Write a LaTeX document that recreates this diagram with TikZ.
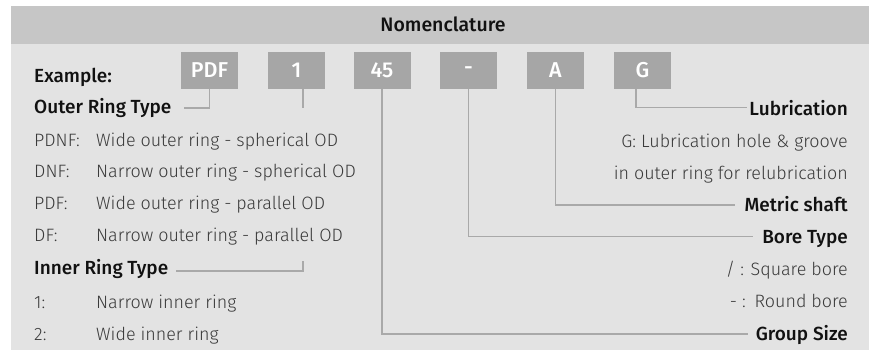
\documentclass[tikz,border=0pt]{standalone}
\usepackage{fontspec}
\usetikzlibrary{calc}
\setmainfont{Fira Sans}[UprightFont={* Light}, BoldFont={* Medium}]
\definecolor{hdr}{HTML}{C6C6C6}
\definecolor{pnl}{HTML}{E3E3E3}
\definecolor{boxc}{HTML}{A6A6A6}
\definecolor{linec}{HTML}{A9A9A9}
\definecolor{txt}{HTML}{3A3A3A}
\definecolor{btxt}{HTML}{111111}
\tikzset{
  codebox/.style={fill=boxc, minimum width=57pt, minimum height=37pt, inner sep=0pt,
    text=white, font=\fontsize{21.5}{24}\selectfont\bfseries},
  body/.style={inner sep=0pt, text=txt, font=\fontsize{17.9}{20}\selectfont},
  head/.style={inner sep=0pt, text=btxt, font=\fontsize{19}{22}\selectfont\bfseries},
  conn/.style={draw=linec, line width=1.4pt},
}
\begin{document}
\begin{tikzpicture}[x=1pt,y=-1pt]
\useasboundingbox (0,0) rectangle (869,351);
\fill[pnl] (11,6) rectangle (868.5,350);
\fill[hdr] (11,6) rectangle (868.5,44);
\node[head, anchor=base, font=\fontsize{19.5}{22}\selectfont\bfseries] (title) at (443,31.5) {Nomenclature};

% code boxes
\node[codebox] (bpdf) at (209.5,70.5) {PDF};
\node[codebox] (bone) at (296.5,70.5) {1};
\node[codebox] (bgrp) at (382,70.5) {45};
\node[codebox] (bbore) at (468.5,70.5) {-};
\node[codebox] (bmet) at (555.5,70.5) {A};
\node[codebox] (blub) at (642.5,70.5) {G};

% left texts
\node[head, anchor=base west] (ex) at (34,82.5) {Example:};
\node[head, anchor=base west] (outer) at (34,113.5) {Outer Ring Type};
\node[body, anchor=base west] (o1a) at (34,146) {PDNF:};
\node[body, anchor=base west] (o1b) at (96,146) {Wide outer ring - spherical OD};
\node[body, anchor=base west] (o2a) at (34,177.7) {DNF:};
\node[body, anchor=base west] (o2b) at (96,177.7) {Narrow outer ring - spherical OD};
\node[body, anchor=base west] (o3a) at (34,209.3) {PDF:};
\node[body, anchor=base west] (o3b) at (96,209.3) {Wide outer ring - parallel OD};
\node[body, anchor=base west] (o4a) at (34,241) {DF:};
\node[body, anchor=base west] (o4b) at (96,241) {Narrow outer ring - parallel OD};
\node[head, anchor=base west] (inner) at (34,274.5) {Inner Ring Type};
\node[body, anchor=base west] (i1a) at (34,308.3) {1:};
\node[body, anchor=base west] (i1b) at (96,308.3) {Narrow inner ring};
\node[body, anchor=base west] (i2a) at (34,340) {2:};
\node[body, anchor=base west] (i2b) at (96,340) {Wide inner ring};

% right texts
\node[head, anchor=base east] (lub) at (848,115) {Lubrication};
\node[body, anchor=base east] (lub1) at (848,147.7) {G: Lubrication hole \& groove};
\node[body, anchor=base east] (lub2) at (848,179.3) {in outer ring for relubrication};
\node[head, anchor=base east] (met) at (848,211) {Metric shaft};
\node[head, anchor=base east] (bore) at (848,243.3) {Bore Type};
\node[body, anchor=base east] (bore1) at (848,275.7) {/ : Square bore};
\node[body, anchor=base east] (bore2) at (848,307.3) {- :\enspace Round bore};
\node[head, anchor=base east] (grp) at (848,340) {Group Size};

% connectors
\draw[conn] (bpdf.south) |- ($(outer.base east)+(12,-5.5)$);
\draw[conn] ($(bone.south)+(6.5,0)$) -- ($(bone.south)+(6.5,19)$);
\draw[conn] ($(inner.base east)+(8,-3.6)$) -| ($(bone.south)+(6.5,172)$);
\draw[conn] (bgrp.south) |- ($(grp.base west)+(-8,-6)$);
\draw[conn] (bbore.south) |- ($(bore.base west)+(-9,-6.6)$);
\draw[conn] (bmet.south) |- ($(met.base west)+(-9,-6)$);
\draw[conn] ($(blub.south)+(-6.5,0)$) |- ($(lub.base west)+(-2,-7.7)$);
\end{tikzpicture}
\end{document}
